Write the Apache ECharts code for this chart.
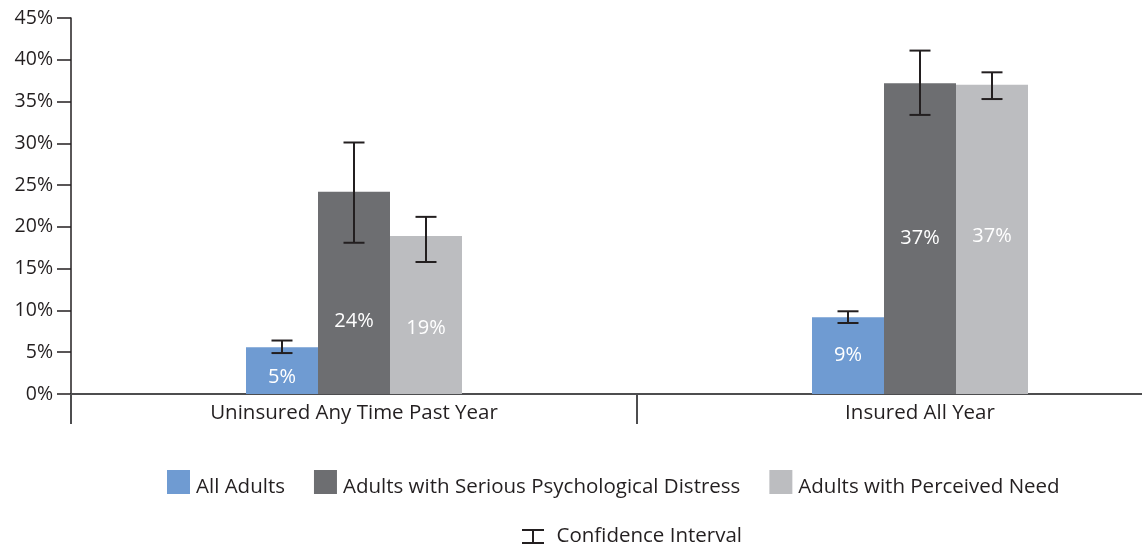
<!DOCTYPE html>
<html>
<head>
<meta charset="utf-8">
<script src="https://cdn.jsdelivr.net/npm/echarts@6/dist/echarts.min.js"></script>
<style>
html,body{margin:0;padding:0;background:#fff;}
#chart{width:1142px;height:546px;}
</style>
</head>
<body>
<div id="chart"></div>
<script>
// ---- data ----
const categories = ['Uninsured Any Time Past Year', 'Insured All Year'];
const seriesNames = ['All Adults', 'Adults with Serious Psychological Distress', 'Adults with Perceived Need'];
const allAdults = [5.6, 9.2];
const distress = [24.2, 37.2];
const perceived = [18.9, 37.0];
const allAdultsCI = [[4.9, 6.4], [8.5, 9.9]];
const distressCI = [[18.1, 30.1], [33.4, 41.1]];
const perceivedCI = [[15.8, 21.2], [35.3, 38.5]];
const valueLabels = [['5%', '9%'], ['24%', '37%'], ['19%', '37%']];
const yTicks = [0, 5, 10, 15, 20, 25, 30, 35, 40, 45];
const ciName = 'Confidence Interval';

// ---- style ----
const colors = ['#6f9bd2', '#6d6e71', '#bcbdc0'];
const labelOffsets = [[[0, 7], [0, 0]], [[0, 28], [0, 0]], [[0, 13], [0, -3]]];
const BAR_W = 72;
const FONT = '"Open Sans", Lato, sans-serif';
const FS = 20.5;

const values = [allAdults, distress, perceived];
const cis = [allAdultsCI, distressCI, perceivedCI];

const chart = echarts.init(document.getElementById('chart'));

const barSeries = seriesNames.map((name, s) => ({
  name: name,
  type: 'bar',
  barWidth: BAR_W,
  barGap: '0%',
  itemStyle: { color: colors[s] },
  data: values[s].map((v, i) => ({
    value: v,
    label: {
      show: true,
      position: 'inside',
      offset: labelOffsets[s][i],
      formatter: valueLabels[s][i],
      color: '#ffffff',
      fontSize: 20,
      fontFamily: FONT
    }
  })),
  z: 2
}));

const errSeries = cis.map((ci, s) => ({
  name: ciName,
  type: 'custom',
  z: 5,
  itemStyle: { color: '#231f20' },
  data: ci.map((c, i) => [i, c[0], c[1]]),
  renderItem: function (params, api) {
    const base = api.coord([api.value(0), 0]);
    const x = base[0] + (s - 1) * BAR_W;
    const yl = api.coord([api.value(0), api.value(1)])[1];
    const yh = api.coord([api.value(0), api.value(2)])[1];
    const hw = 10.5;
    const st = { stroke: '#231f20', lineWidth: 2 };
    return {
      type: 'group',
      children: [
        { type: 'line', shape: { x1: x, y1: yl, x2: x, y2: yh }, style: st },
        { type: 'line', shape: { x1: x - hw, y1: yl, x2: x + hw, y2: yl }, style: st },
        { type: 'line', shape: { x1: x - hw, y1: yh, x2: x + hw, y2: yh }, style: st }
      ]
    };
  }
}));

const option = {
  animation: false,
  backgroundColor: '#ffffff',
  grid: { left: 71, top: 18, bottom: 152, right: -61, containLabel: false, outerBoundsMode: 'none' },
  legend: [
    {
      data: seriesNames,
      left: 167,
      top: 470,
      padding: 0,
      icon: 'rect',
      itemWidth: 23,
      itemHeight: 24,
      itemGap: 29,
      selectedMode: false,
      formatter: '{t|{name}}',
      textStyle: {
        fontSize: FS, color: '#231f20', fontFamily: FONT,
        rich: { t: { fontSize: FS, color: '#231f20', fontFamily: FONT, padding: [10, 0, 0, 1] } }
      }
    },
    {
      data: [{
        name: ciName,
        icon: 'path://M0,0 L22,0 L22,2 L12,2 L12,13 L22,13 L22,15 L0,15 L0,13 L10,13 L10,2 L0,2 Z'
      }],
      left: 522,
      top: 526,
      padding: 0,
      itemWidth: 23,
      itemHeight: 15,
      itemGap: 10,
      selectedMode: false,
      itemStyle: { color: '#231f20' },
      textStyle: { fontSize: FS, color: '#231f20', fontFamily: FONT, padding: [0, 0, 0, 7] }
    }
  ],
  xAxis: {
    type: 'category',
    data: categories,
    axisLine: { show: true, lineStyle: { color: '#4d4d4f', width: 2 } },
    axisTick: { show: true, length: 30, alignWithLabel: false, lineStyle: { color: '#4d4d4f', width: 2 } },
    axisLabel: { color: '#231f20', fontSize: FS, fontFamily: FONT, margin: 9 },
    splitLine: { show: false }
  },
  yAxis: {
    type: 'value',
    min: 0,
    max: 45,
    interval: 5,
    axisLine: { show: true, lineStyle: { color: '#231f20', width: 1.5 } },
    axisTick: { show: true, length: 14, lineStyle: { color: '#231f20', width: 1.5 } },
    axisLabel: {
      color: '#231f20', fontSize: 19.5, fontFamily: FONT, margin: 18,
      formatter: function (v) { return yTicks.indexOf(v) >= 0 ? v + '%' : ''; }
    },
    splitLine: { show: false }
  },
  series: barSeries.concat(errSeries)
};

chart.setOption(option);
</script>
</body>
</html>
